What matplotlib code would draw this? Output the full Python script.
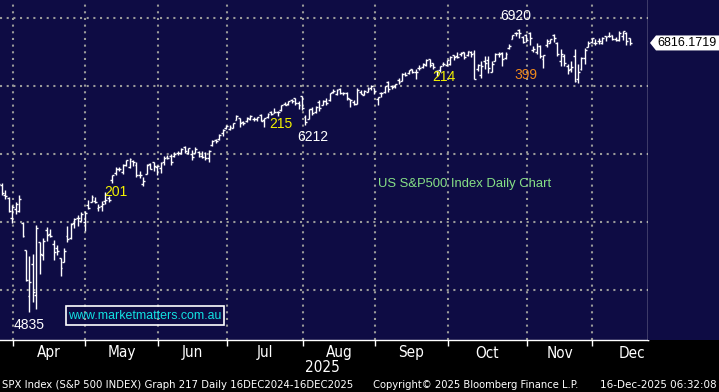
import numpy as np
import pandas as pd
import matplotlib
matplotlib.use("Agg")
import matplotlib.pyplot as plt
from matplotlib.patches import Polygon, Rectangle
from matplotlib.transforms import blended_transform_factory

# trading days shown (NYSE holidays removed)
holidays = ["2025-04-18", "2025-05-26", "2025-06-19", "2025-07-04", "2025-09-01", "2025-11-27"]
dates = pd.bdate_range("2025-03-25", "2025-12-15")
dates = dates[~dates.isin(pd.to_datetime(holidays))]

# SPX daily OHLC
opens = [5775, 5772, 5696, 5679, 5527,
         5597, 5580, 5492, 5292, 4953, 5194, 4966, 5353, 5255, 5441, 5411, 5336, 5306, 5232, 5207, 5395, 5381, 5489, 5529, 5508, 5500,
         5625, 5646, 5655, 5606, 5615, 5655, 5675, 5808, 5858, 5886, 5867, 5922, 5902, 5945, 5921, 5842, 5781, 5855, 5926, 5939, 5903,
         5896, 5938, 5978, 5985, 5987, 6005, 6010, 6049, 6010, 5997, 6005, 6013, 5987, 6004, 5970, 6069, 6104, 6112, 6151, 6193,
         6187, 6193, 6247, 6262, 6236, 6243, 6259, 6256, 6256, 6288, 6250, 6270, 6305, 6304, 6307, 6326, 6368, 6370, 6397, 6409, 6374, 6428,
         6271, 6260, 6330, 6309, 6381, 6362, 6390, 6398, 6459, 6441, 6478, 6446, 6446, 6404, 6384, 6370, 6458, 6434, 6458, 6486, 6486,
         6401, 6445, 6456, 6530, 6500, 6500, 6541, 6538, 6591, 6597, 6624, 6606, 6630, 6641, 6655, 6695, 6667, 6608, 6617, 6661, 6655,
         6663, 6731, 6722, 6733, 6746, 6726, 6751, 6740, 6626, 6579, 6686, 6691, 6603, 6685, 6737, 6742, 6704, 6777, 6845, 6889, 6908, 6862, 6878,
         6890, 6768, 6751, 6792, 6697, 6801, 6819, 6876, 6818, 6680, 6723, 6647, 6626, 6721, 6552, 6628, 6706, 6784, 6822,
         6813, 6830, 6815, 6866, 6867, 6873, 6846, 6838, 6866, 6889, 6855]
highs = [5787, 5783, 5732, 5685, 5623,
         5650, 5695, 5500, 5292, 5246, 5267, 5481, 5353, 5381, 5460, 5450, 5367, 5328, 5232, 5309, 5469, 5489, 5528, 5553, 5571, 5581,
         5659, 5700, 5683, 5631, 5654, 5721, 5691, 5848, 5907, 5907, 5924, 5959, 5969, 5953, 5938, 5878, 5830, 5924, 5930, 5944, 5922,
         5939, 5982, 5991, 5999, 6017, 6022, 6044, 6060, 6046, 6026, 6051, 6024, 6019, 6018, 6026, 6102, 6108, 6146, 6187, 6215,
         6210, 6228, 6285, 6265, 6243, 6269, 6290, 6275, 6273, 6292, 6266, 6304, 6316, 6336, 6316, 6360, 6381, 6390, 6401, 6410, 6391, 6428,
         6288, 6330, 6346, 6349, 6395, 6395, 6410, 6447, 6481, 6474, 6482, 6459, 6456, 6407, 6394, 6482, 6467, 6468, 6489, 6508, 6487,
         6416, 6453, 6502, 6533, 6510, 6513, 6555, 6592, 6600, 6616, 6627, 6624, 6656, 6671, 6697, 6700, 6667, 6620, 6650, 6679, 6689,
         6718, 6731, 6751, 6749, 6750, 6754, 6756, 6764, 6665, 6685, 6720, 6717, 6682, 6745, 6752, 6748, 6748, 6807, 6876, 6900, 6920, 6869, 6879,
         6894, 6796, 6818, 6801, 6730, 6842, 6847, 6880, 6823, 6771, 6737, 6660, 6683, 6770, 6663, 6715, 6781, 6828, 6849,
         6844, 6851, 6862, 6867, 6895, 6877, 6862, 6901, 6903, 6900, 6856]
lows = [5765, 5695, 5670, 5572, 5489,
        5558, 5572, 5390, 5069, 4835, 4910, 4857, 5115, 5220, 5358, 5387, 5220, 5255, 5101, 5207, 5356, 5372, 5455, 5468, 5505, 5433,
        5597, 5646, 5637, 5579, 5578, 5630, 5644, 5786, 5846, 5873, 5854, 5910, 5896, 5910, 5830, 5825, 5768, 5853, 5886, 5874, 5843,
        5861, 5921, 5966, 5921, 5978, 5994, 6000, 6008, 6003, 5953, 6004, 5977, 5971, 5952, 5944, 6062, 6080, 6101, 6133, 6180,
        6177, 6188, 6246, 6201, 6216, 6236, 6246, 6242, 6245, 6244, 6201, 6264, 6285, 6303, 6282, 6317, 6361, 6363, 6375, 6360, 6333, 6326,
        6212, 6260, 6290, 6301, 6316, 6359, 6363, 6386, 6446, 6431, 6441, 6432, 6398, 6343, 6360, 6365, 6438, 6430, 6457, 6469, 6441,
        6361, 6418, 6445, 6454, 6479, 6484, 6514, 6533, 6572, 6590, 6597, 6551, 6614, 6633, 6650, 6641, 6624, 6570, 6605, 6644, 6645,
        6656, 6693, 6708, 6723, 6699, 6717, 6712, 6550, 6610, 6561, 6622, 6593, 6600, 6684, 6712, 6648, 6699, 6775, 6843, 6866, 6856, 6818, 6824,
        6802, 6752, 6736, 6707, 6631, 6790, 6813, 6826, 6721, 6647, 6646, 6585, 6604, 6526, 6521, 6619, 6660, 6784, 6818,
        6799, 6808, 6810, 6834, 6858, 6836, 6828, 6827, 6841, 6801, 6801]
closes = [5777, 5712, 5693, 5581, 5612,
          5633, 5671, 5397, 5074, 5062, 4982, 5457, 5268, 5363, 5406, 5397, 5276, 5283, 5158, 5288, 5376, 5485, 5525, 5529, 5561, 5569,
          5604, 5687, 5650, 5607, 5631, 5664, 5660, 5844, 5887, 5892, 5916, 5958, 5964, 5940, 5845, 5842, 5802, 5922, 5889, 5912, 5912,
          5936, 5970, 5971, 5939, 6000, 6006, 6038, 6022, 6045, 5977, 6033, 5982, 5981, 5967, 6025, 6092, 6092, 6141, 6173, 6205,
          6198, 6227, 6279, 6230, 6226, 6263, 6280, 6260, 6269, 6244, 6264, 6297, 6297, 6306, 6309, 6359, 6363, 6389, 6390, 6371, 6362, 6339,
          6238, 6330, 6299, 6345, 6340, 6389, 6374, 6446, 6466, 6469, 6450, 6449, 6411, 6396, 6370, 6467, 6439, 6465, 6481, 6502, 6460,
          6416, 6448, 6502, 6481, 6495, 6512, 6532, 6587, 6584, 6615, 6606, 6600, 6631, 6664, 6693, 6657, 6638, 6605, 6644, 6661, 6688,
          6711, 6715, 6716, 6740, 6714, 6754, 6735, 6553, 6655, 6644, 6671, 6629, 6664, 6736, 6735, 6699, 6738, 6792, 6875, 6891, 6890, 6822, 6840,
          6852, 6771, 6796, 6720, 6729, 6832, 6846, 6851, 6737, 6734, 6672, 6617, 6642, 6538, 6603, 6705, 6766, 6813, 6849,
          6813, 6829, 6850, 6857, 6870, 6847, 6840, 6887, 6901, 6827, 6816.1719]

price_ticks = [5000, 5500, 6000, 6500, 7000]
minor_ticks = [4750, 5250, 5750, 6250, 6750]

# chart notes: (text, trading day, price, colour)
notes = [("4835", "2025-04-07", 4743, "white"),
         ("201", "2025-05-13", 5721, "#f2f200"),
         ("215", "2025-07-23", 6221, "#f2f200"),
         ("6212", "2025-08-05", 6125, "white"),
         ("214", "2025-09-29", 6566, "#f2f200"),
         ("399", "2025-10-31", 6581, "#f08a1c"),
         ("6920", "2025-10-28", 7015, "white")]

assert len(opens) == len(highs) == len(lows) == len(closes) == len(dates)

W, H = 719, 392
navy = "#0e0c44"
grid_col = "#9a9a9a"
plain = ["Liberation Sans", "DejaVu Sans"]
cond = dict(fontfamily="DejaVu Sans", fontstretch="condensed")

fig = plt.figure(figsize=(W / 100, H / 100), dpi=100, facecolor="black")
fig.patches.append(Rectangle((648 / W, 1 - 340 / H), 71 / W, 340 / H, transform=fig.transFigure,
                             facecolor=navy, edgecolor="none", zorder=0))
ax = fig.add_axes([0, 1 - 340 / H, 648 / W, 340 / H], facecolor=navy)


def fit(t, width_px):
    # shrink a text so it spans about width_px pixels, like the condensed terminal font
    r = fig.canvas.get_renderer()
    w0 = t.get_window_extent(r).width
    t.set_fontsize(t.get_fontsize() * width_px / w0)


x = np.arange(len(dates))
w = 0.55
ax.vlines(x, lows, highs, color="white", lw=1.0, zorder=3)
ax.hlines(opens, x - w, x, color="white", lw=1.0, zorder=3)
ax.hlines(closes, x, x + w, color="white", lw=1.0, zorder=3)

ax.set_xlim(0.45, 188.3)
ax.set_ylim(4632, 7132)

# month boundaries
months = pd.Series(dates.month)
starts = [int(i) for i in np.where(months.diff().fillna(0) != 0)[0]]
bounds = [s - 0.8 for s in starts]
for b in bounds:
    ax.axvline(b, color=grid_col, lw=1.5, ls=(0, (1, 2.2)), zorder=1)
for p in price_ticks:
    ax.axhline(p, color=grid_col, lw=1.5, ls=(0, (1, 2.2)), zorder=1)

for s in ["top", "left"]:
    ax.spines[s].set_visible(False)
for s in ["right", "bottom"]:
    ax.spines[s].set_color("white")
    ax.spines[s].set_linewidth(1.0)

ax.set_xticks(bounds)
ax.set_xticklabels([])
ax.tick_params(axis="x", colors="white", length=4, width=1, direction="out")

ax.yaxis.tick_right()
ax.set_yticks(price_ticks)
ax.set_yticklabels([str(p) for p in price_ticks], fontfamily=plain, fontsize=9, color="white")
ax.set_yticks(minor_ticks, minor=True)
ax.tick_params(axis="y", which="major", length=0, pad=10, colors="white")
ax.tick_params(axis="y", which="minor", length=3, width=1, colors="white")
tri = blended_transform_factory(ax.transAxes, ax.transData)
ax.plot([1 + 6 / 648] * len(price_ticks), price_ticks, ls="none", marker=">", ms=5, mfc="white",
        mec="white", transform=tri, clip_on=False, zorder=5)

fig.canvas.draw()

# month labels
bt = blended_transform_factory(ax.transData, fig.transFigure)
names = [d.strftime("%b") for d in dates[starts]]
edges = bounds + [bounds[-1] + 23]
for k, nm in enumerate(names):
    ax.text((edges[k] + edges[k + 1]) / 2, 1 - 353 / H, nm, transform=bt, ha="center", va="center",
            color="white", fontsize=11, **cond)
fig.text(322 / W, 1 - 368 / H, "2025", ha="center", va="center", color="white", fontsize=11, **cond)

# notes on the chart
pos = {d.strftime("%Y-%m-%d"): i for i, d in enumerate(dates)}
for txt, day, price, col in notes:
    ax.text(pos[day], price, txt, color=col, fontsize=10, fontfamily=plain, ha="center", va="center", zorder=6)

t = fig.text(465 / W, 1 - 184 / H, "US S&P500 Index Daily Chart", color="#86e086", fontsize=10,
             fontfamily=plain, ha="center", va="center")
fit(t, 173)
t = fig.text(145 / W, 1 - 316 / H, "www.marketmatters.com.au", color="#12e2e2", fontsize=10,
             fontfamily=plain, ha="center", va="center")
fit(t, 153)
fig.patches.append(Rectangle((66 / W, 1 - 325 / H), 158 / W, 19 / H, transform=fig.transFigure,
                             facecolor="none", edgecolor="white", lw=1.2, zorder=6))

# last price tag
ty = ax.transData.transform((0, closes[-1]))[1]
tag = [(650, ty), (656, ty + 7.5), (719, ty + 7.5), (719, ty - 7.5), (656, ty - 7.5)]
fig.patches.append(Polygon([(px / W, py / H) for px, py in tag], closed=True, transform=fig.transFigure,
                           facecolor="white", edgecolor="none", zorder=7))
t = fig.text(657 / W, ty / H, f"{closes[-1]:.4f}", color="black", fontsize=10, fontfamily=plain,
             ha="left", va="center", zorder=8)
fit(t, 59)

# footer
t = fig.text(2 / W, 1 - 385 / H, "SPX Index (S&P 500 INDEX) Graph 217 Daily 16DEC2024-16DEC2025",
             color="white", fontsize=9.5, ha="left", va="center", **cond)
fit(t, 352)
t = fig.text(373 / W, 1 - 385 / H, "Copyright\u00a9 2025 Bloomberg Finance L.P.", color="white",
             fontsize=9.5, ha="left", va="center", **cond)
fit(t, 207)
t = fig.text(717 / W, 1 - 385 / H, "16-Dec-2025 06:32:08", color="white", fontsize=9.5,
             ha="right", va="center", **cond)
fit(t, 117)

fig.savefig("out.png", dpi=100, facecolor="black")
